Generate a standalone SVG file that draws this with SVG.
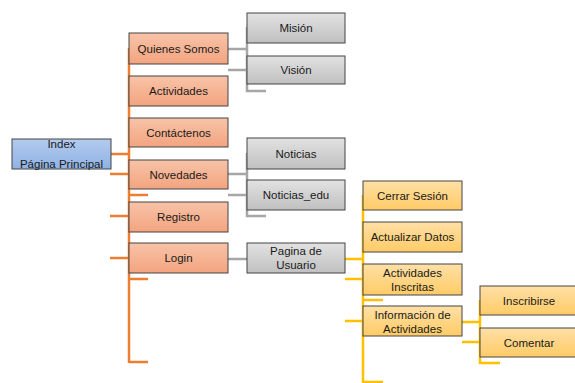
<svg xmlns="http://www.w3.org/2000/svg" width="575" height="383" viewBox="0 0 575 383">
<defs>
<linearGradient id="gO" x1="0" y1="0" x2="0" y2="1"><stop offset="0" stop-color="#f8c3a8"/><stop offset="1" stop-color="#f3a47f"/></linearGradient>
<linearGradient id="gG" x1="0" y1="0" x2="0" y2="1"><stop offset="0" stop-color="#e2e2e2"/><stop offset="1" stop-color="#c0c0c0"/></linearGradient>
<linearGradient id="gY" x1="0" y1="0" x2="0" y2="1"><stop offset="0" stop-color="#ffe0a6"/><stop offset="1" stop-color="#ffcb66"/></linearGradient>
<linearGradient id="gB" x1="0" y1="0" x2="0" y2="1"><stop offset="0" stop-color="#b3cbee"/><stop offset="1" stop-color="#8fb2e4"/></linearGradient>
</defs>
<style>
.box{stroke:#444;stroke-width:1}
.o{fill:url(#gO)}.g{fill:url(#gG)}.y{fill:url(#gY)}.b{fill:url(#gB)}
text{font-family:"Liberation Sans",Arial,sans-serif;font-size:11.5px;fill:#1a1a1a;text-anchor:middle}
.lo{stroke:#ed7d31;stroke-width:2.5;fill:none}
.lg{stroke:#a6a6a6;stroke-width:2.5;fill:none}
.ly{stroke:#ffc000;stroke-width:2.5;fill:none}
</style>
<g id="connectors">
<path class="lo" d="M129 48V363M111 154H129M110 174H129M110 216H129M110 258H129M129 195H148M129 279H148M129 362H148"/>
<path class="lg" d="M247 27V91H266M228 49H247M228 70H247M247 153V216H266M228 174H247M228 195H247M228 259H247"/>
<path class="ly" d="M363 195V383M345 259H363M345 279H363M345 321H363M363 300H383M363 382H383M480 300V363H500M462 322H480M462 342H480"/>
</g>
<g id="index"><rect class="box b" x="12" y="139" width="99" height="30"/><text x="61.5" y="148">Index</text><text x="61.5" y="167.5">Página Principal</text></g>
<g id="quienes"><rect class="box o" x="129" y="33" width="99" height="31"/><text x="178.5" y="52.5">Quienes Somos</text></g>
<g id="actividades"><rect class="box o" x="129" y="76" width="99" height="30"/><text x="178.5" y="95">Actividades</text></g>
<g id="contactenos"><rect class="box o" x="129" y="118" width="99" height="29"/><text x="178.5" y="136.5">Contáctenos</text></g>
<g id="novedades"><rect class="box o" x="129" y="160" width="99" height="29"/><text x="178.5" y="178.5">Novedades</text></g>
<g id="registro"><rect class="box o" x="129" y="202" width="99" height="30"/><text x="178.5" y="221">Registro</text></g>
<g id="login"><rect class="box o" x="129" y="243" width="99" height="30"/><text x="178.5" y="262">Login</text></g>
<g id="mision"><rect class="box g" x="247" y="13" width="98" height="30"/><text x="296" y="32">Misión</text></g>
<g id="vision"><rect class="box g" x="247" y="56" width="98" height="28"/><text x="296" y="74">Visión</text></g>
<g id="noticias"><rect class="box g" x="247" y="138" width="98" height="31"/><text x="296" y="157.5">Noticias</text></g>
<g id="noticias_edu"><rect class="box g" x="247" y="180" width="98" height="30"/><text x="296" y="199">Noticias_edu</text></g>
<g id="pagina_usuario"><rect class="box g" x="247" y="243" width="98" height="30"/><text x="296" y="255">Pagina de</text><text x="296" y="269">Usuario</text></g>
<g id="cerrar"><rect class="box y" x="363" y="181" width="99" height="29"/><text x="412.5" y="199.5">Cerrar Sesión</text></g>
<g id="actualizar"><rect class="box y" x="363" y="222" width="99" height="30"/><text x="412.5" y="241">Actualizar Datos</text></g>
<g id="inscritas"><rect class="box y" x="363" y="264" width="99" height="31"/><text x="412.5" y="277">Actividades</text><text x="412.5" y="291">Inscritas</text></g>
<g id="informacion"><rect class="box y" x="363" y="306" width="99" height="30"/><text x="412.5" y="319">Información de</text><text x="412.5" y="333">Actividades</text></g>
<g id="inscribirse"><rect class="box y" x="480" y="286" width="98" height="29"/><text x="529" y="304.5">Inscribirse</text></g>
<g id="comentar"><rect class="box y" x="480" y="328" width="98" height="29"/><text x="529" y="346.5">Comentar</text></g>
</svg>
